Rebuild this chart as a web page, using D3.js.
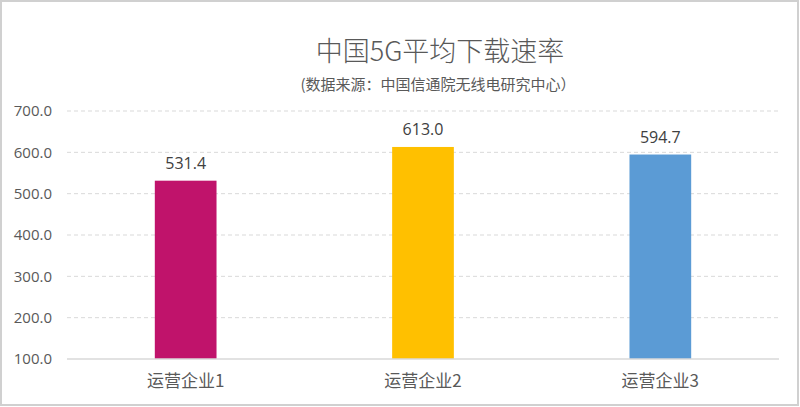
<!DOCTYPE html>
<html><head><meta charset="utf-8">
<script src="https://cdn.jsdelivr.net/npm/d3@7/dist/d3.min.js"></script>
<style>
html,body{margin:0;padding:0;background:#fff;}
svg{display:block;font-family:"Noto Sans CJK SC","Open Sans",sans-serif;}
</style></head>
<body>
<script>
const categories = ["运营企业1","运营企业2","运营企业3"];
const values = [531.4, 613.0, 594.7];
const colors = ["#C0136B","#FFC000","#5B9BD5"];
const yTicks = [100,200,300,400,500,600,700];
const titleText = "中国5G平均下载速率";
const subtitleText = "(数据来源：中国信通院无线电研究中心）";

const W = 800, H = 407;
const svg = d3.select("body").append("svg").attr("width", W).attr("height", H);

svg.append("rect").attr("x",1).attr("y",1).attr("width",W-3).attr("height",H-3)
  .attr("fill","#fff").attr("stroke","#d0d0d0").attr("stroke-width",2);

const x = d3.scaleBand().domain(categories).range([67, 779]).paddingInner(0.74).paddingOuter(0.37);
const y = d3.scaleLinear().domain([100, 700]).range([359, 111]);

// gridlines
svg.append("g").selectAll("line").data(yTicks.filter(t => t > 100)).join("line")
  .attr("x1", 67).attr("x2", 779)
  .attr("y1", d => y(d)).attr("y2", d => y(d))
  .attr("stroke", "#d9d9d9").attr("stroke-width", 1).attr("stroke-dasharray", "4,3");

// y axis labels
const yAxis = d3.axisLeft(y).tickValues(yTicks).tickFormat(d3.format(".1f")).tickSize(0).tickPadding(0);
const ga = svg.append("g").attr("transform", "translate(52,0)").call(yAxis);
ga.select(".domain").remove();
ga.selectAll("text").attr("fill", "#595959").style("font-size", "15px").style("font-family", "'Open Sans','Noto Sans',sans-serif");

// bars
svg.append("g").selectAll("rect").data(values).join("rect")
  .attr("x", (d, i) => x(categories[i]))
  .attr("width", x.bandwidth())
  .attr("y", d => y(d))
  .attr("height", d => y(100) - y(d))
  .attr("fill", (d, i) => colors[i]);

// baseline
svg.append("line").attr("x1", 67).attr("x2", 779).attr("y1", y(100)).attr("y2", y(100))
  .attr("stroke", "#d9d9d9").attr("stroke-width", 1.5);

// value labels
svg.append("g").selectAll("text").data(values).join("text")
  .attr("x", (d, i) => x(categories[i]) + x.bandwidth() / 2)
  .attr("y", d => y(d) - 12)
  .attr("text-anchor", "middle")
  .attr("fill", "#404040")
  .style("font-size", "16px").style("font-family", "'Open Sans','Noto Sans',sans-serif")
  .text(d => d3.format(".1f")(d));

// category labels
const xAxis = d3.axisBottom(x).tickSize(0).tickPadding(0);
const gx = svg.append("g").attr("transform", "translate(0,375)").call(xAxis);
gx.select(".domain").remove();
gx.selectAll("text").attr("fill", "#595959").style("font-size", "17px")
  .style("font-family", "'Noto Sans CJK SC',sans-serif");

// title
svg.append("text").attr("x", 440).attr("y", 61).attr("text-anchor", "middle")
  .attr("fill", "#595959").style("font-size", "27px").style("font-weight", "300").text(titleText);
svg.append("text").attr("x", 438).attr("y", 90).attr("text-anchor", "middle")
  .attr("fill", "#595959").style("font-size", "15px").text(subtitleText);
</script>
</body></html>
